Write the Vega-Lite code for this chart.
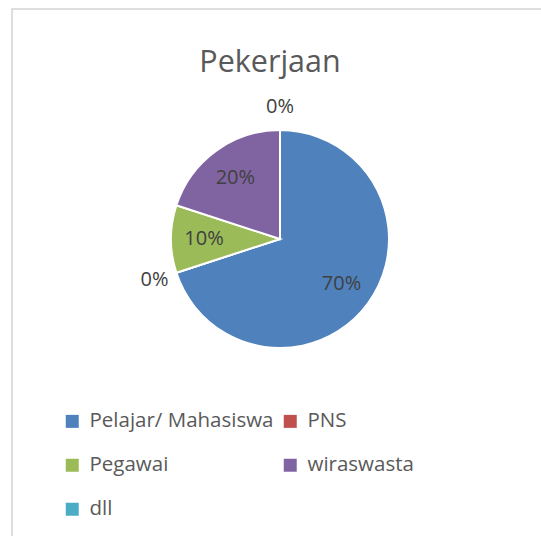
{
  "$schema": "https://vega.github.io/schema/vega-lite/v6.json",
  "autosize": {"type": "none"},
  "width": 536,
  "height": 528,
  "padding": {"left": 12, "top": 9, "right": 0, "bottom": 0},
  "background": "white",
  "view": {"stroke": "#d4d4d4", "strokeWidth": 1.5},
  "config": {
    "font": "Open Sans"
  },
  "title": {
    "text": "Pekerjaan",
    "orient": "top",
    "anchor": "middle",
    "offset": -93,
    "dx": -10,
    "baseline": "alphabetic",
    "fontSize": 30.5,
    "fontWeight": "normal",
    "color": "#595959",
    "font": "Open Sans"
  },
  "data": {
    "values": [
      {"idx": 1, "pekerjaan": "Pelajar/ Mahasiswa", "value": 70, "label": "70%"},
      {"idx": 2, "pekerjaan": "PNS", "value": 0, "label": "0%"},
      {"idx": 3, "pekerjaan": "Pegawai", "value": 10, "label": "10%"},
      {"idx": 4, "pekerjaan": "wiraswasta", "value": 20, "label": "20%"},
      {"idx": 5, "pekerjaan": "dll", "value": 0, "label": "0%"}
    ]
  },
  "encoding": {
    "theta": {"field": "value", "type": "quantitative", "stack": true},
    "order": {"field": "idx", "type": "quantitative"}
  },
  "layer": [
    {
      "mark": {"type": "arc", "outerRadius": 109, "stroke": "white", "strokeWidth": 2, "yOffset": -34},
      "encoding": {
        "color": {
          "field": "pekerjaan",
          "type": "nominal",
          "scale": {
            "domain": ["Pelajar/ Mahasiswa", "PNS", "Pegawai", "wiraswasta", "dll"],
            "range": ["#4F81BD", "#C0504D", "#9BBB59", "#8064A2", "#4BACC6"]
          },
          "legend": {
            "title": null,
            "orient": "none",
            "legendX": 50,
            "legendY": 402,
            "columns": 2,
            "direction": "horizontal",
            "symbolType": "square",
            "symbolSize": 169,
            "symbolStrokeWidth": 0,
            "labelFontSize": 20.5,
            "labelFont": "Open Sans",
            "labelColor": "#595959",
            "labelOffset": 7,
            "labelLimit": 400,
            "rowPadding": 23,
            "columnPadding": 6,
            "padding": 0
          }
        }
      }
    },
    {
      "mark": {"type": "text", "radius": 76, "fontSize": 20, "color": "#404040", "yOffset": -34},
      "encoding": {
        "text": {"condition": {"test": "datum.value > 0", "field": "label"}, "value": ""}
      }
    },
    {
      "mark": {"type": "text", "radius": 132, "fontSize": 20, "color": "#404040", "yOffset": -34},
      "encoding": {
        "text": {"condition": {"test": "datum.value == 0", "field": "label"}, "value": ""}
      }
    }
  ]
}
